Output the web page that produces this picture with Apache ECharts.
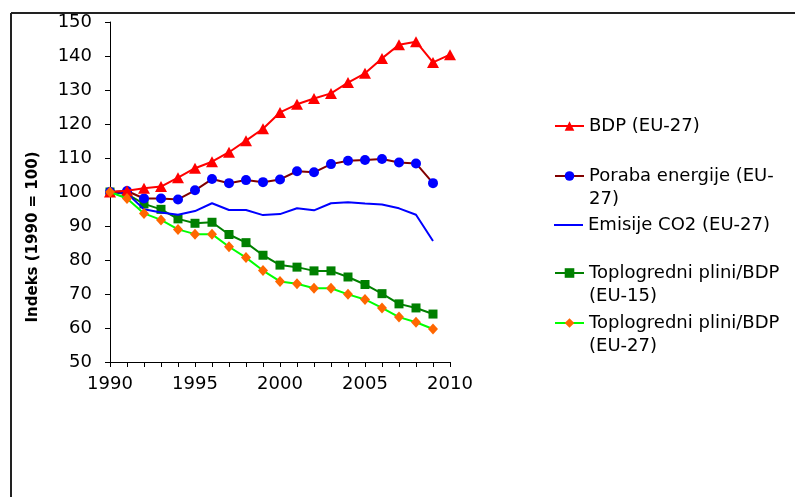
<!DOCTYPE html>
<html>
<head>
<meta charset="utf-8">
<script src="https://cdn.jsdelivr.net/npm/echarts@6/dist/echarts.min.js"></script>
<style>
  html, body { margin: 0; padding: 0; background: #fff; }
  #main { width: 795px; height: 497px; }
</style>
</head>
<body>
<div id="main"></div>
<script>
// leta
const years = [1990, 1991, 1992, 1993, 1994, 1995, 1996, 1997, 1998, 1999,
               2000, 2001, 2002, 2003, 2004, 2005, 2006, 2007, 2008, 2009, 2010]

const bdp = [100, 100.4, 101.1, 101.6, 104.2, 107.0, 108.9, 111.7, 115.1, 118.6,
             123.4, 125.8, 127.5, 129.0, 132.2, 134.9, 139.3, 143.3, 144.2, 138.1, 140.4]
const poraba = [100, 100.3, 98.1, 98.1, 97.8, 100.5, 103.8, 102.6, 103.5, 102.9,
                103.7, 106.1, 105.8, 108.2, 109.2, 109.4, 109.7, 108.7, 108.4, 102.6]
const emisije = [100, 99.6, 94.9, 94.0, 93.3, 94.4, 96.7, 94.7, 94.7, 93.2,
                 93.5, 95.2, 94.6, 96.7, 97.0, 96.6, 96.3, 95.2, 93.3, 85.6]
const plini15 = [100, 99.4, 96.5, 94.9, 92.1, 90.8, 91.1, 87.5, 85.1, 81.4,
                 78.5, 77.9, 76.8, 76.8, 75.0, 72.8, 70.1, 67.1, 65.9, 64.1]
const plini27 = [100, 98.1, 93.7, 91.8, 89.0, 87.6, 87.6, 83.9, 80.7, 76.9,
                 73.7, 73.0, 71.7, 71.7, 69.9, 68.4, 65.9, 63.2, 61.7, 59.7]

const names = ['BDP (EU-27)', 'Poraba energije (EU-\n27)', 'Emisije CO2 (EU-27)',
               'Toplogredni plini/BDP\n(EU-15)', 'Toplogredni plini/BDP\n(EU-27)']
const yTitle = 'Indeks (1990 = 100)'

const pairs = (arr) => arr.map((v, i) => [years[i], v])

const FONT = 'DejaVu Sans'
const L = 23

// en legend za vsako serijo, da je razmik kot v originalu
// pri dvovrsticnih dodamo prazno vrstico zgoraj, da je ikona ob prvi vrstici
const legendTops = [126, 176, 225, 273, 323]
const legends = names.map((n, i) => {
    const twoLines = n.indexOf('\n') >= 0
    const lg = {
        data: [n],
        orient: 'vertical',
        left: 554,
        top: legendTops[i] - (twoLines ? 1.5 * L : 0.5 * L),
        padding: 0,
        itemWidth: 29,
        itemHeight: 12,
        itemGap: 5,
        selectedMode: false,
        formatter: (name) => (twoLines ? '\u00a0\n' + name : name),
        textStyle: {
            fontFamily: FONT,
            fontSize: 18,
            color: '#000',
            lineHeight: L
        }
    }
    if (i === 2) {
        // samo crta brez znacke
        lg.icon = 'rect'
        lg.itemHeight = 2
        lg.top = legendTops[i] - 0.5 * L
        lg.itemStyle = { color: '#0000ff' }
    }
    return lg
})

const chart = echarts.init(document.getElementById('main'))

chart.setOption({
    animation: false,
    backgroundColor: '#fff',
    legend: legends,
    grid: { left: 110, right: 345, top: 22, bottom: 135 },
    xAxis: {
        type: 'value',
        min: 1990,
        max: 2010,
        interval: 1,
        axisLine: { lineStyle: { color: '#000', width: 1 } },
        axisTick: { length: 5, lineStyle: { color: '#000' } },
        splitLine: { show: false },
        axisLabel: {
            color: '#000',
            fontFamily: FONT,
            fontSize: 18,
            margin: 13,
            formatter: (v) => (v % 5 === 0 ? String(v) : '')
        }
    },
    yAxis: {
        type: 'value',
        min: 50,
        max: 150,
        interval: 10,
        axisLine: { show: true, lineStyle: { color: '#000', width: 1 } },
        axisTick: { show: true, length: 5, lineStyle: { color: '#000' } },
        splitLine: { show: false },
        axisLabel: {
            color: '#000',
            fontFamily: FONT,
            fontSize: 18,
            margin: 18
        }
    },
    graphic: [
        {
            type: 'line',
            shape: { x1: 11, y1: 13, x2: 795, y2: 13 },
            style: { stroke: '#222', lineWidth: 2 }
        },
        {
            type: 'line',
            shape: { x1: 11, y1: 13, x2: 11, y2: 497 },
            style: { stroke: '#222', lineWidth: 2 }
        },
        {
            type: 'text',
            x: 33,
            y: 237,
            rotation: Math.PI / 2,
            style: {
                text: yTitle,
                fontFamily: FONT,
                fontSize: 15,
                fontWeight: 'bold',
                fill: '#000',
                align: 'center',
                verticalAlign: 'middle'
            }
        }
    ],
    series: [
        {
            name: names[0],
            type: 'line',
            data: pairs(bdp),
            symbol: 'triangle',
            symbolSize: [12, 11],
            lineStyle: { color: '#ff0000', width: 2 },
            itemStyle: { color: '#ff0000' },
            z: 5
        },
        {
            name: names[1],
            type: 'line',
            data: pairs(poraba),
            symbol: 'circle',
            symbolSize: 10,
            lineStyle: { color: '#800000', width: 2 },
            itemStyle: { color: '#0000ff' },
            z: 4
        },
        {
            name: names[2],
            type: 'line',
            data: pairs(emisije),
            symbol: 'none',
            showSymbol: false,
            lineStyle: { color: '#0000ff', width: 2 },
            itemStyle: { color: '#0000ff' },
            z: 3
        },
        {
            name: names[3],
            type: 'line',
            data: pairs(plini15),
            symbol: 'rect',
            symbolSize: 9,
            lineStyle: { color: '#008000', width: 2 },
            itemStyle: { color: '#008000' },
            z: 2
        },
        {
            name: names[4],
            type: 'line',
            data: pairs(plini27),
            symbol: 'diamond',
            symbolSize: [10, 11],
            lineStyle: { color: '#00ff00', width: 2 },
            itemStyle: { color: '#ff6600' },
            z: 6
        }
    ]
})
</script>
</body>
</html>
